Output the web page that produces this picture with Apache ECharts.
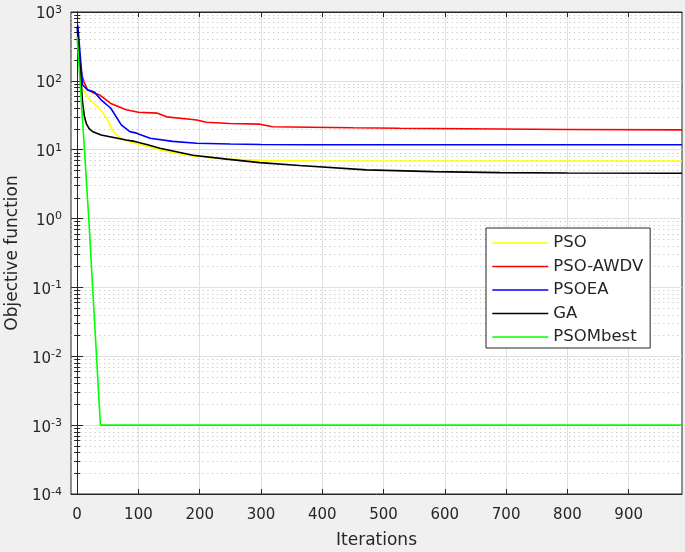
<!DOCTYPE html>
<html>
<head>
<meta charset="utf-8">
<script src="https://cdn.jsdelivr.net/npm/echarts@6/dist/echarts.min.js"></script>
<style>
html,body{margin:0;padding:0;background:#f0f0f0;}
#chart{width:685px;height:552px;}
</style>
</head>
<body>
<div id="chart"></div>
<script>
// ---- data ----
var seriesNames = ['PSO', 'PSO-AWDV', 'PSOEA', 'GA', 'PSOMbest'];
var xTicks = [0, 100, 200, 300, 400, 500, 600, 700, 800, 900];

var psoIter = [1, 7, 12, 21, 36, 42, 50, 55, 62, 77, 97, 115, 135, 160, 195, 250, 300, 380, 987];
var psoVal  = [550, 83, 68, 53, 40, 34, 27, 21, 17, 13.7, 12.2, 11.1, 9.9, 9.0, 8.0, 7.3, 7.0, 6.9, 6.85];

var awdvIter = [4, 8, 11, 17, 25, 36, 55, 80, 100, 130, 146, 180, 195, 211, 249, 298, 319, 380, 450, 526, 690, 800, 987];
var awdvVal  = [200, 120, 98, 74, 68, 63, 47, 38, 35, 34, 30, 28, 27, 25, 24, 23.5, 21.6, 21.2, 20.8, 20.5, 20, 19.7, 19.4];

var psoeaIter = [1, 9, 17, 28, 39, 55, 72, 86, 97, 119, 156, 195, 250, 300, 380, 987];
var psoeaVal  = [650, 87, 74, 69, 53, 40, 23, 18.3, 17.4, 14.7, 13.2, 12.4, 12.1, 11.9, 11.8, 11.8];

var gaIter = [0, 9, 12, 15, 20, 26, 39, 66, 80, 94, 115, 135, 189, 244, 298, 363, 472, 581, 690, 800, 987];
var gaVal  = [610, 47, 30, 24, 20, 18.2, 16.4, 14.7, 13.8, 13.2, 11.8, 10.5, 8.3, 7.3, 6.5, 5.9, 5.1, 4.8, 4.65, 4.6, 4.55];

var mbestIter = [0, 11, 19, 24, 38, 987];
var mbestVal  = [437, 13.8, 1.0, 0.16, 0.001, 0.001];

var seriesColors = ['#ffff00', '#ff0000', '#0000ff', '#000000', '#00ff00'];

function pairs(xs, ys) { return xs.map(function (x, i) { return [x, ys[i]]; }); }
var allData = [pairs(psoIter, psoVal), pairs(awdvIter, awdvVal), pairs(psoeaIter, psoeaVal), pairs(gaIter, gaVal), pairs(mbestIter, mbestVal)];

var FONT = 'DejaVu Sans';
var TXT = '#262626';

var chart = echarts.init(document.getElementById('chart'), null, {renderer: 'canvas'});

var yLabelRich = {
  b: {fontSize: 15, fontFamily: FONT, color: TXT, lineHeight: 15, padding: [5, 0, 0, 0]},
  s: {fontSize: 11, fontFamily: FONT, color: TXT, lineHeight: 12, verticalAlign: 'top'}
};

var option = {
  animation: false,
  backgroundColor: '#f0f0f0',
  grid: {left: 71, right: 3, top: 12, bottom: 58, show: true, backgroundColor: '#ffffff', borderColor: '#262626', borderWidth: 1, containLabel: false, outerBoundsMode: 'none'},
  legend: {
    data: seriesNames,
    orient: 'vertical',
    left: 486, top: 228,
    itemWidth: 56, itemHeight: 14, itemGap: 5.5,
    padding: [6, 7, 2, 5.5],
    itemStyle: {opacity: 0},
    lineStyle: {width: 1.6},
    borderColor: '#262626', borderWidth: 1, backgroundColor: '#ffffff',
    textStyle: {fontSize: 16.5, fontFamily: FONT, color: TXT, lineHeight: 18}
  },
  xAxis: [{
    type: 'value', min: -10, max: 987, position: 'bottom',
    name: 'Iterations', nameLocation: 'middle', nameGap: 38,
    nameTextStyle: {fontSize: 17, fontFamily: FONT, color: TXT},
    axisLine: {show: true, lineStyle: {color: '#262626', width: 1}},
    axisTick: {show: true, inside: true, length: 5, customValues: xTicks, lineStyle: {color: '#262626'}},
    axisLabel: {show: true, customValues: xTicks, margin: 14, fontSize: 15, fontFamily: FONT, color: TXT},
    splitLine: {show: true, lineStyle: {color: '#e0e0e0', width: 1}}
  }, {
    type: 'value', min: -10, max: 987, position: 'top',
    axisLine: {show: true, lineStyle: {color: '#262626', width: 1}},
    axisTick: {show: true, inside: true, length: 5, customValues: xTicks, lineStyle: {color: '#262626'}},
    axisLabel: {show: false},
    splitLine: {show: false}
  }],
  yAxis: [{
    type: 'log', logBase: 10, min: 1e-4, max: 1e3, interval: 1, position: 'left',
    name: 'Objective function', nameLocation: 'middle', nameGap: 50,
    nameTextStyle: {fontSize: 17, fontFamily: FONT, color: TXT},
    axisLine: {show: true, lineStyle: {color: '#262626', width: 1}},
    axisTick: {show: true, inside: true, length: 6, lineStyle: {color: '#262626'}},
    minorTick: {show: true, splitNumber: 9, length: 3, lineStyle: {color: '#262626'}},
    axisLabel: {
      margin: 9,
      formatter: function (v) {
        var e = Math.round(Math.log10(v));
        return '{b|10}{s|' + e + '}';
      },
      rich: yLabelRich
    },
    splitLine: {show: true, lineStyle: {color: '#e0e0e0', width: 1}},
    minorSplitLine: {show: true, lineStyle: {color: '#c4c4c4', width: 1, type: [1.2, 3.5]}}
  }, {
    type: 'log', logBase: 10, min: 1e-4, max: 1e3, interval: 1, position: 'right',
    axisLine: {show: true, lineStyle: {color: '#262626', width: 1}},
    axisTick: {show: true, inside: true, length: 6, lineStyle: {color: '#262626'}},
    minorTick: {show: true, splitNumber: 9, length: 3, lineStyle: {color: '#262626'}},
    axisLabel: {show: false},
    splitLine: {show: false}
  }],
  series: seriesNames.map(function (name, i) {
    return {
      name: name, type: 'line', xAxisIndex: 0, yAxisIndex: 0,
      data: allData[i], symbol: 'none', showSymbol: false,
      color: seriesColors[i],
      lineStyle: {color: seriesColors[i], width: 1.6},
      z: 2 + i
    };
  })
};
chart.setOption(option);
</script>
</body>
</html>
